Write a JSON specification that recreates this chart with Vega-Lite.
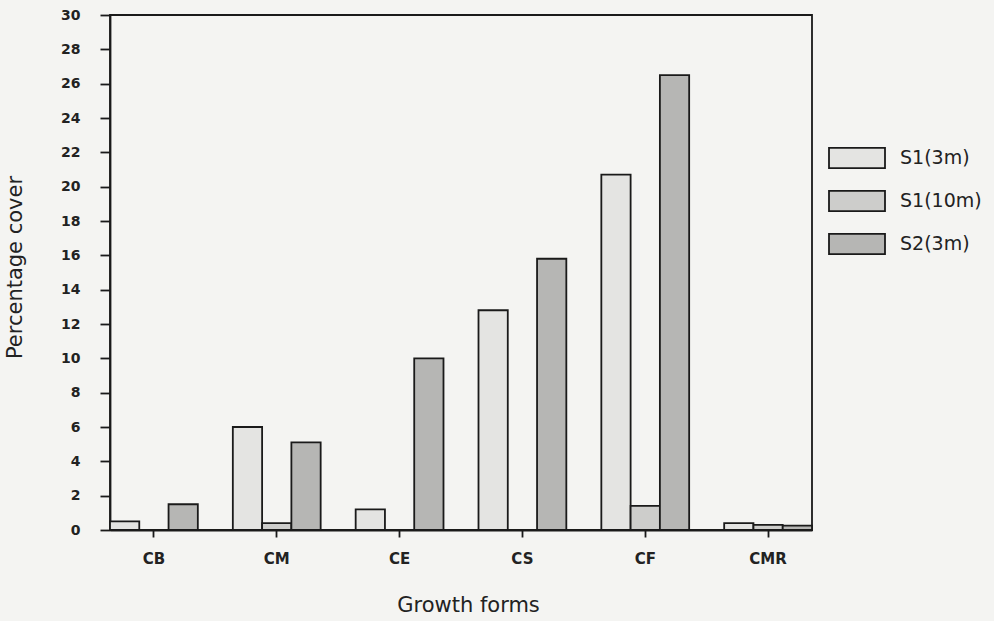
{
  "$schema": "https://vega.github.io/schema/vega-lite/v6.json",
  "width": 702,
  "height": 515,
  "autosize": {"type": "none"},
  "padding": {"left": 110, "top": 15, "right": 182, "bottom": 91},
  "background": "#f4f4f2",
  "config": {
    "view": {"stroke": "#1a1a1a", "strokeWidth": 1.8},
    "font": "DejaVu Sans"
  },
  "data": {
    "values": [
      {"form": "CB", "site": "S1(3m)", "cover": 0.5},
      {"form": "CB", "site": "S1(10m)", "cover": 0},
      {"form": "CB", "site": "S2(3m)", "cover": 1.5},
      {"form": "CM", "site": "S1(3m)", "cover": 6.0},
      {"form": "CM", "site": "S1(10m)", "cover": 0.4},
      {"form": "CM", "site": "S2(3m)", "cover": 5.1},
      {"form": "CE", "site": "S1(3m)", "cover": 1.2},
      {"form": "CE", "site": "S1(10m)", "cover": 0},
      {"form": "CE", "site": "S2(3m)", "cover": 10.0},
      {"form": "CS", "site": "S1(3m)", "cover": 12.8},
      {"form": "CS", "site": "S1(10m)", "cover": 0},
      {"form": "CS", "site": "S2(3m)", "cover": 15.8},
      {"form": "CF", "site": "S1(3m)", "cover": 20.7},
      {"form": "CF", "site": "S1(10m)", "cover": 1.4},
      {"form": "CF", "site": "S2(3m)", "cover": 26.5},
      {"form": "CMR", "site": "S1(3m)", "cover": 0.4},
      {"form": "CMR", "site": "S1(10m)", "cover": 0.3},
      {"form": "CMR", "site": "S2(3m)", "cover": 0.25}
    ]
  },
  "mark": {"type": "bar", "stroke": "#1a1a1a", "strokeWidth": 1.8},
  "encoding": {
    "x": {
      "field": "form",
      "type": "nominal",
      "sort": ["CB", "CM", "CE", "CS", "CF", "CMR"],
      "scale": {"paddingInner": 0.285, "paddingOuter": 0},
      "axis": {
        "title": "Growth forms",
        "labelAngle": 0,
        "domainColor": "#1a1a1a",
        "domainWidth": 1.8,
        "tickColor": "#1a1a1a",
        "tickWidth": 1.8,
        "tickSize": 7,
        "labelPadding": 14,
        "labelFont": "DejaVu Sans",
        "labelFontWeight": "bold",
        "labelFontSize": 15,
        "labelColor": "#222222",
        "titleFont": "DejaVu Sans",
        "titleFontSize": 21,
        "titleFontWeight": "normal",
        "titleColor": "#222222",
        "titleX": 358,
        "titleY": 75,
        "titleAlign": "center",
        "titleBaseline": "middle"
      }
    },
    "xOffset": {
      "field": "site",
      "type": "nominal",
      "sort": ["S1(3m)", "S1(10m)", "S2(3m)"],
      "scale": {"paddingInner": 0, "paddingOuter": 0}
    },
    "y": {
      "field": "cover",
      "type": "quantitative",
      "scale": {"domain": [0, 30], "nice": false},
      "axis": {
        "title": "Percentage cover",
        "values": [0, 2, 4, 6, 8, 10, 12, 14, 16, 18, 20, 22, 24, 26, 28, 30],
        "grid": false,
        "domainColor": "#1a1a1a",
        "domainWidth": 1.8,
        "tickColor": "#1a1a1a",
        "tickWidth": 1.8,
        "tickSize": 10,
        "labelPadding": 20,
        "labelFont": "DejaVu Sans",
        "labelFontWeight": "bold",
        "labelFontSize": 14,
        "labelColor": "#222222",
        "titleFont": "DejaVu Sans",
        "titleFontSize": 21,
        "titleFontWeight": "normal",
        "titleColor": "#222222",
        "titleX": -95,
        "titleY": 252,
        "titleAngle": -90,
        "titleAlign": "center",
        "titleBaseline": "middle"
      }
    },
    "fill": {
      "field": "site",
      "type": "nominal",
      "sort": ["S1(3m)", "S1(10m)", "S2(3m)"],
      "scale": {
        "domain": ["S1(3m)", "S1(10m)", "S2(3m)"],
        "range": ["#e4e4e2", "#cdcdcb", "#b6b6b4"]
      },
      "legend": {
        "orient": "none",
        "legendX": 718,
        "legendY": 114,
        "title": null,
        "symbolType": "M-1,-0.36H1V0.36H-1Z",
        "symbolSize": 3136,
        "symbolStrokeColor": "#1a1a1a",
        "symbolStrokeWidth": 1.8,
        "labelFont": "DejaVu Sans",
        "labelFontSize": 19,
        "labelColor": "#222222",
        "labelOffset": 14,
        "rowPadding": -6,
        "padding": 0
      }
    }
  }
}
